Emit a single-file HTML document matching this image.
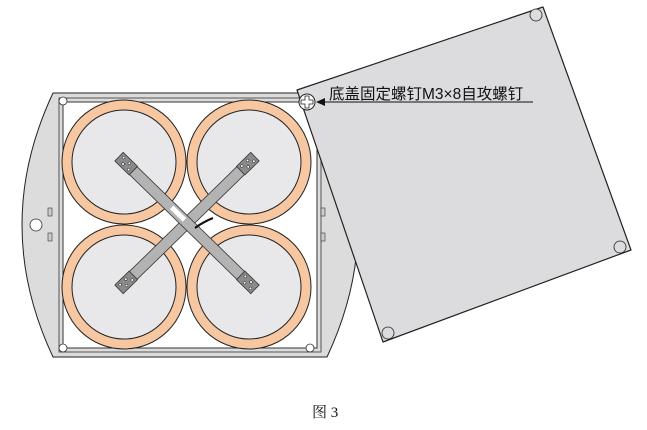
<!DOCTYPE html>
<html><head><meta charset="utf-8"><style>html,body{margin:0;padding:0;background:#fff;width:647px;height:430px;overflow:hidden}</style></head>
<body>
<svg width="647" height="430" viewBox="0 0 647 430" xmlns="http://www.w3.org/2000/svg">
<defs>
<g id="pad"><rect x="-10" y="-6" width="20" height="12" fill="#8a8a8a" stroke="#333" stroke-width="0.8"/>
<circle cx="-6" cy="-2.5" r="1.3" fill="#fff" stroke="#222" stroke-width="0.5"/><circle cx="-2" cy="2.5" r="1.3" fill="#fff" stroke="#222" stroke-width="0.5"/><circle cx="2" cy="-2.5" r="1.3" fill="#fff" stroke="#222" stroke-width="0.5"/><circle cx="6" cy="2.5" r="1.3" fill="#fff" stroke="#222" stroke-width="0.5"/></g>
</defs>
<path d="M53,93 L327,93 Q389,225 327,357 L53,357 Q-9,225 53,93 Z" fill="#dcdcdc" stroke="#222" stroke-width="1"/>
<rect x="59" y="98" width="262" height="254" fill="none" stroke="#555" stroke-width="1"/>
<rect x="63" y="102" width="254" height="246" fill="#fff" stroke="#333" stroke-width="1"/>
<circle cx="36" cy="225" r="6" fill="#fff" stroke="#333" stroke-width="0.8"/>
<rect x="48" y="208" width="4" height="8" fill="#ccc" stroke="#333" stroke-width="0.6"/>
<rect x="48" y="233" width="4" height="8" fill="#ccc" stroke="#333" stroke-width="0.6"/>
<rect x="321" y="208" width="4" height="8" fill="#ccc" stroke="#333" stroke-width="0.6"/>
<rect x="321" y="233" width="4" height="8" fill="#ccc" stroke="#333" stroke-width="0.6"/>
<circle cx="63" cy="101" r="4" fill="#fff" stroke="#333" stroke-width="0.8"/>
<circle cx="63" cy="348" r="4" fill="#fff" stroke="#333" stroke-width="0.8"/>
<circle cx="310" cy="348" r="4" fill="#fff" stroke="#333" stroke-width="0.8"/>
<g stroke="#222" stroke-width="1">
<circle cx="124" cy="162" r="62" fill="#f6c7a0"/><circle cx="124" cy="162" r="52" fill="#e8e8ea"/>
<circle cx="249" cy="162" r="62" fill="#f6c7a0"/><circle cx="249" cy="162" r="52" fill="#e8e8ea"/>
<circle cx="124" cy="287" r="62" fill="#f6c7a0"/><circle cx="124" cy="287" r="52" fill="#e8e8ea"/>
<circle cx="249" cy="287" r="62" fill="#f6c7a0"/><circle cx="249" cy="287" r="52" fill="#e8e8ea"/>
</g>
<g transform="translate(187,223) rotate(-44.3)"><rect x="-93" y="-5.5" width="186" height="11" fill="#b3b3b3" stroke="#333" stroke-width="0.8"/><use href="#pad" x="-85"/><use href="#pad" x="85"/></g>
<g transform="translate(187,223) rotate(44.3)"><rect x="-93" y="-5.5" width="186" height="11" fill="#b3b3b3" stroke="#333" stroke-width="0.8"/><rect x="-22" y="-3" width="18" height="5" fill="#fff"/><use href="#pad" x="-85"/><use href="#pad" x="85"/></g>
<path d="M195,228 Q203,222 213,218" fill="none" stroke="#111" stroke-width="2.2"/>
<path d="M297,90 L543,7 L631,250 L383,342 Z" fill="#dcdcde" stroke="#222" stroke-width="1.2" stroke-linejoin="round"/>
<circle cx="536" cy="15" r="6" fill="#dcdcde" stroke="#222" stroke-width="0.8"/>
<circle cx="620" cy="247" r="6" fill="#dcdcde" stroke="#222" stroke-width="0.8"/>
<circle cx="388" cy="333" r="6" fill="#dcdcde" stroke="#222" stroke-width="0.8"/>
<circle cx="307" cy="102" r="8" fill="#fff" stroke="#222" stroke-width="1"/>
<path d="M305,96 h4 v4 h4 v4 h-4 v4 h-4 v-4 h-4 v-4 h4 z" fill="#fff" stroke="#222" stroke-width="0.8"/>
<line x1="322" y1="102" x2="533" y2="102" stroke="#111" stroke-width="1"/>
<path d="M316,102 L325,98 L325,106 Z" fill="#111"/>
<text x="329" y="99" font-family="'Liberation Sans','Noto Sans CJK SC',sans-serif" font-size="15.5" fill="#111">底盖固定螺钉M3×8自攻螺钉</text>
<text x="312" y="417" font-family="'Liberation Serif','Noto Serif CJK SC',serif" font-size="15" fill="#111">图 3</text>
</svg>
</body></html>
